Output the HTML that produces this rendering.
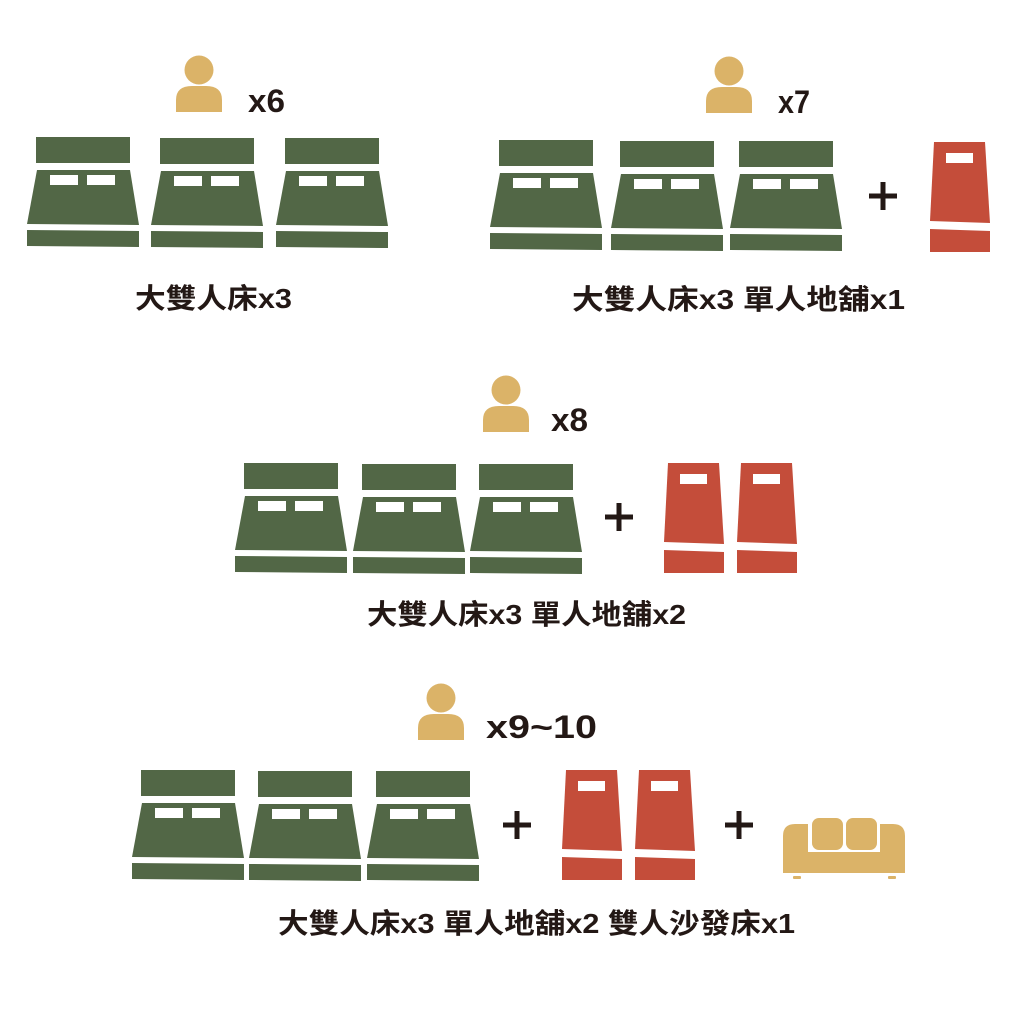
<!DOCTYPE html>
<html><head><meta charset="utf-8"><style>
html,body{margin:0;padding:0;background:#fff;}
svg{display:block}
text{font-family:"Liberation Sans","Noto Sans CJK TC",sans-serif;font-weight:bold;fill:#231815}
</style></head><body>
<svg width="1024" height="1024" viewBox="0 0 1024 1024" xmlns="http://www.w3.org/2000/svg">
<defs>
<g id="bed">
<rect x="0" y="0" width="94" height="26" fill="#526746"/>
<polygon points="1,33 94,33 103,88 -9,87" fill="#526746"/>
<rect x="14" y="38" width="28" height="10" fill="#fff"/>
<rect x="51" y="38" width="28" height="10" fill="#fff"/>
<polygon points="-9,93 103,94 103,110 -9,109" fill="#526746"/>
</g>
<g id="red">
<polygon points="0,0 51,0 56,81 -4,79" fill="#c44d3a"/>
<rect x="12" y="11" width="27" height="10" fill="#fff"/>
<polygon points="-4,87 56,89 56,110 -4,110" fill="#c44d3a"/>
</g>
<g id="person">
<circle cx="0" cy="0" r="14.5" fill="#dbb368"/>
<path d="M-23,42 L-23,30 Q-23,16 -7,16 L7,16 Q23,16 23,30 L23,42 Z" fill="#dbb368"/>
</g>
<g id="plus">
<rect x="-14" y="-2.5" width="28" height="5" fill="#231815"/>
<rect x="-2.5" y="-14" width="5" height="28" fill="#231815"/>
</g>
</defs>

<use href="#person" x="199" y="70"/>
<text x="248" y="112" font-size="32" textLength="37" lengthAdjust="spacingAndGlyphs">x6</text>
<use href="#bed" x="36" y="137"/>
<use href="#bed" x="160" y="138"/>
<use href="#bed" x="285" y="138"/>
<text x="135" y="308" font-size="28" textLength="157" lengthAdjust="spacingAndGlyphs">大雙人床x3</text>

<use href="#person" x="729" y="71"/>
<text x="778" y="113" font-size="32" textLength="32" lengthAdjust="spacingAndGlyphs">x7</text>
<use href="#bed" x="499" y="140"/>
<use href="#bed" x="620" y="141"/>
<use href="#bed" x="739" y="141"/>
<use href="#plus" x="883" y="196"/>
<use href="#red" x="934" y="142"/>
<text x="572" y="309" font-size="28" textLength="333" lengthAdjust="spacingAndGlyphs">大雙人床x3 單人地舖x1</text>

<use href="#person" x="506" y="390"/>
<text x="551" y="431" font-size="32" textLength="37" lengthAdjust="spacingAndGlyphs">x8</text>
<use href="#bed" x="244" y="463"/>
<use href="#bed" x="362" y="464"/>
<use href="#bed" x="479" y="464"/>
<use href="#plus" x="619" y="517"/>
<use href="#red" x="668" y="463"/>
<use href="#red" x="741" y="463"/>
<text x="367" y="624" font-size="28" textLength="319" lengthAdjust="spacingAndGlyphs">大雙人床x3 單人地舖x2</text>

<use href="#person" x="441" y="698"/>
<text x="486" y="738" font-size="32" textLength="111" lengthAdjust="spacingAndGlyphs">x9~10</text>
<use href="#bed" x="141" y="770"/>
<use href="#bed" x="258" y="771"/>
<use href="#bed" x="376" y="771"/>
<use href="#plus" x="517" y="825"/>
<use href="#red" x="566" y="770"/>
<use href="#red" x="639" y="770"/>
<use href="#plus" x="739" y="825"/>
<g fill="#dbb368">
<path d="M783,873 L783,836 Q783,824 795,824 L808,824 L808,852 L880,852 L880,824 L893,824 Q905,824 905,836 L905,873 Z"/>
<rect x="808" y="855" width="72" height="18"/>
<rect x="812" y="818" width="31" height="32" rx="7"/>
<rect x="846" y="818" width="31" height="32" rx="7"/>
<rect x="811" y="852" width="66" height="3"/>
<rect x="793" y="876" width="8" height="3" rx="1"/>
<rect x="888" y="876" width="8" height="3" rx="1"/>
</g>
<text x="278" y="933" font-size="28" textLength="517" lengthAdjust="spacingAndGlyphs">大雙人床x3 單人地舖x2 雙人沙發床x1</text>
</svg>
</body></html>
